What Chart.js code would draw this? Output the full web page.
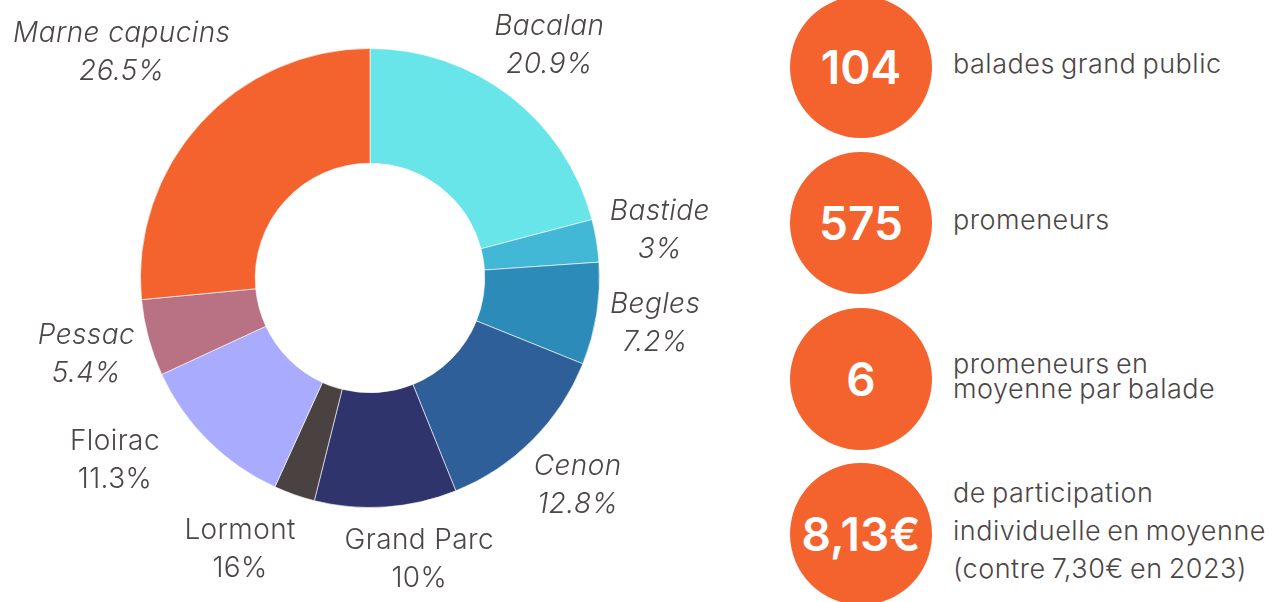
<!DOCTYPE html>
<html lang="fr">
<head>
<meta charset="utf-8">
<script src="https://cdn.jsdelivr.net/npm/chart.js@4"></script>
<style>
  html, body { margin: 0; padding: 0; background: #fff; }
  body { width: 1281px; height: 602px; position: relative; overflow: hidden; font-family: Inter, sans-serif; }
  #chart-box { position: absolute; left: 0; top: 0; width: 740px; height: 602px; }
  .stat { position: absolute; left: 790px; width: 490px; height: 142px; }
  .stat .circle {
    position: absolute; left: 0; top: 0; width: 142px; height: 142px; border-radius: 50%;
    background: #f4632e; color: #fff; font-weight: 600; font-size: 46px;
    display: flex; align-items: center; justify-content: center;
  }
  .stat .txt {
    position: absolute; left: 163px; top: -3px; height: 142px; display: flex; align-items: center;
    color: #4d4646; font-size: 27px; font-weight: 300; letter-spacing: 0.5px; word-spacing: -2px;
    white-space: nowrap;
  }
</style>
</head>
<body>
<div id="chart-box"><canvas id="donut"></canvas></div>

<div class="stat" style="top:-4px"><div class="circle">104</div><div class="txt" style="line-height:26px">balades grand public</div></div>
<div class="stat" style="top:152px"><div class="circle">575</div><div class="txt" style="line-height:26px">promeneurs</div></div>
<div class="stat" style="top:308px"><div class="circle">6</div><div class="txt" style="line-height:25px">promeneurs en<br>moyenne par balade</div></div>
<div class="stat" style="top:463px"><div class="circle">8,13€</div><div class="txt" style="line-height:38px">de participation<br>individuelle en moyenne<br>(contre 7,30€ en 2023)</div></div>

<script>
// quartiers et parts (angle des tranches)
var quartiers = ['Bacalan', 'Bastide', 'Begles', 'Cenon', 'Grand Parc', 'Lormont', 'Floirac', 'Pessac', 'Marne capucins'];
var parts = [20.9, 3, 7.2, 12.8, 10, 2.9, 11.3, 5.4, 26.5];
// pourcentages tels qu'affichés dans les étiquettes
var etiquettes = ['20.9%', '3%', '7.2%', '12.8%', '10%', '16%', '11.3%', '5.4%', '26.5%'];
var couleurs = ['#68e5e8', '#43b8d6', '#2d8bba', '#2e5f98', '#30346c', '#4a4241', '#a9acfe', '#b87284', '#f4632e'];

// mise en forme des étiquettes
var italique = [true, true, true, true, false, false, false, true, true];
var decalage = [[0, 0], [0, 0], [-5, 0], [0, 0], [29, -11], [-33, -6], [-48, -26], [0, 0], [-31, -28]];

var etiquettesPlugin = {
    id: 'etiquettes',
    afterDatasetsDraw: function (chart) {
        var ctx = chart.ctx;
        var meta = chart.getDatasetMeta(0);
        ctx.save();
        ctx.fillStyle = '#4d4646';
        ctx.textAlign = 'center';
        ctx.textBaseline = 'middle';
        ctx.letterSpacing = '0.4px';
        meta.data.forEach(function (arc, i) {
            var p = arc.getProps(['x', 'y', 'startAngle', 'endAngle', 'outerRadius'], true);
            var mid = (p.startAngle + p.endAngle) / 2;
            var r = p.outerRadius * 1.28;
            var x = p.x + Math.cos(mid) * r + decalage[i][0];
            var y = p.y + Math.sin(mid) * r + decalage[i][1];
            ctx.font = (italique[i] ? 'italic ' : '') + '300 28px Inter';
            ctx.fillText(quartiers[i], x, y - 19);
            ctx.fillText(etiquettes[i], x, y + 19);
        });
        ctx.restore();
    }
};

var donutCtx = document.getElementById('donut').getContext('2d');
var donutChart = new Chart(donutCtx, {
    type: 'doughnut',
    data: {
        labels: quartiers,
        datasets: [{
            data: parts,
            backgroundColor: couleurs,
            borderColor: 'rgba(255,255,255,0.6)',
            borderWidth: 1
        }]
    },
    options: {
        responsive: true,
        maintainAspectRatio: false,
        animation: false,
        cutout: '50%',
        layout: { padding: { top: 48, bottom: 94, left: 0, right: 0 } },
        plugins: {
            legend: { display: false },
            tooltip: { enabled: false }
        }
    },
    plugins: [etiquettesPlugin]
});
</script>
</body>
</html>
